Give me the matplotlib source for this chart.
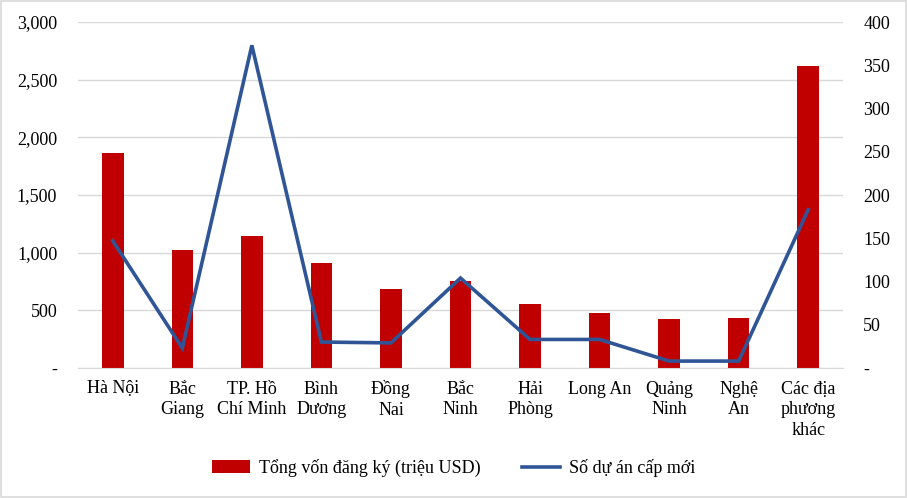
import matplotlib
matplotlib.use("Agg")
import matplotlib.pyplot as plt
from matplotlib.ticker import FuncFormatter, MultipleLocator
import numpy as np

plt.rcParams['font.family'] = ['Liberation Serif', 'DejaVu Serif']

# data
provinces = ["Hà Nội", "Bắc\nGiang", "TP. Hồ\nChí Minh", "Bình\nDương", "Đồng\nNai",
             "Bắc\nNinh", "Hải\nPhòng", "Long An", "Quảng\nNinh", "Nghệ\nAn",
             "Các địa\nphương\nkhác"]
von_dang_ky = [1867, 1023, 1147, 910, 682, 754, 555, 477, 425, 434, 2616]
so_du_an = [147, 23, 373, 30, 29, 104, 33, 33, 8, 8, 183]

bar_color = '#C00000'
line_color = '#2F5597'
fs = 13


def dash_zero(v, pos):
    if abs(v) < 1e-9:
        return "-"
    return "{:,.0f}".format(v)


fig = plt.figure(figsize=(9.08, 4.98), dpi=100)
ax = fig.add_axes([78 / 908, 1 - 368 / 498, (843 - 78) / 908, (368 - 22) / 498])
ax2 = ax.twinx()

x = np.arange(len(provinces))
ax.bar(x, von_dang_ky, width=0.31, color=bar_color, zorder=2,
       label="Tổng vốn đăng ký (triệu USD)")
ax2.plot(x, so_du_an, color=line_color, lw=2.6, solid_joinstyle='miter',
         label="Số dự án cấp mới")

ax.set_xlim(-0.5, len(provinces) - 0.5)
ax.set_ylim(0, 3000)
ax2.set_ylim(0, 400)
ax.yaxis.set_major_locator(MultipleLocator(500))
ax2.yaxis.set_major_locator(MultipleLocator(50))
ax.yaxis.set_major_formatter(FuncFormatter(dash_zero))
ax2.yaxis.set_major_formatter(FuncFormatter(dash_zero))

ax.grid(axis='y', color='#d9d9d9', lw=1.0, zorder=0)
ax.set_axisbelow(True)

for a in (ax, ax2):
    for s in a.spines.values():
        s.set_visible(False)
    a.tick_params(length=0, labelsize=fs)
ax.spines['bottom'].set_visible(True)
ax.spines['bottom'].set_color('#d9d9d9')

ax.set_xticks(x)
ax.set_xticklabels(provinces, fontsize=fs, linespacing=1.3, va='top')
ax.tick_params(axis='x', pad=9)
ax.tick_params(axis='y', pad=15)
ax2.tick_params(axis='y', pad=14.5)

h1, l1 = ax.get_legend_handles_labels()
h2, l2 = ax2.get_legend_handles_labels()
fig.legend(h1 + h2, l1 + l2, loc='center', bbox_to_anchor=(0.5, 1 - 468 / 498),
           ncol=2, frameon=False, fontsize=fs, columnspacing=2.3,
           handlelength=2.1, handletextpad=0.5)

# thin light frame around the whole figure
fig.patches.append(plt.Rectangle((0.001, 0.002), 0.997, 0.995, transform=fig.transFigure,
                                 fill=False, edgecolor='#d9d9d9', lw=1.2))

fig.savefig("out.png", dpi=100)
